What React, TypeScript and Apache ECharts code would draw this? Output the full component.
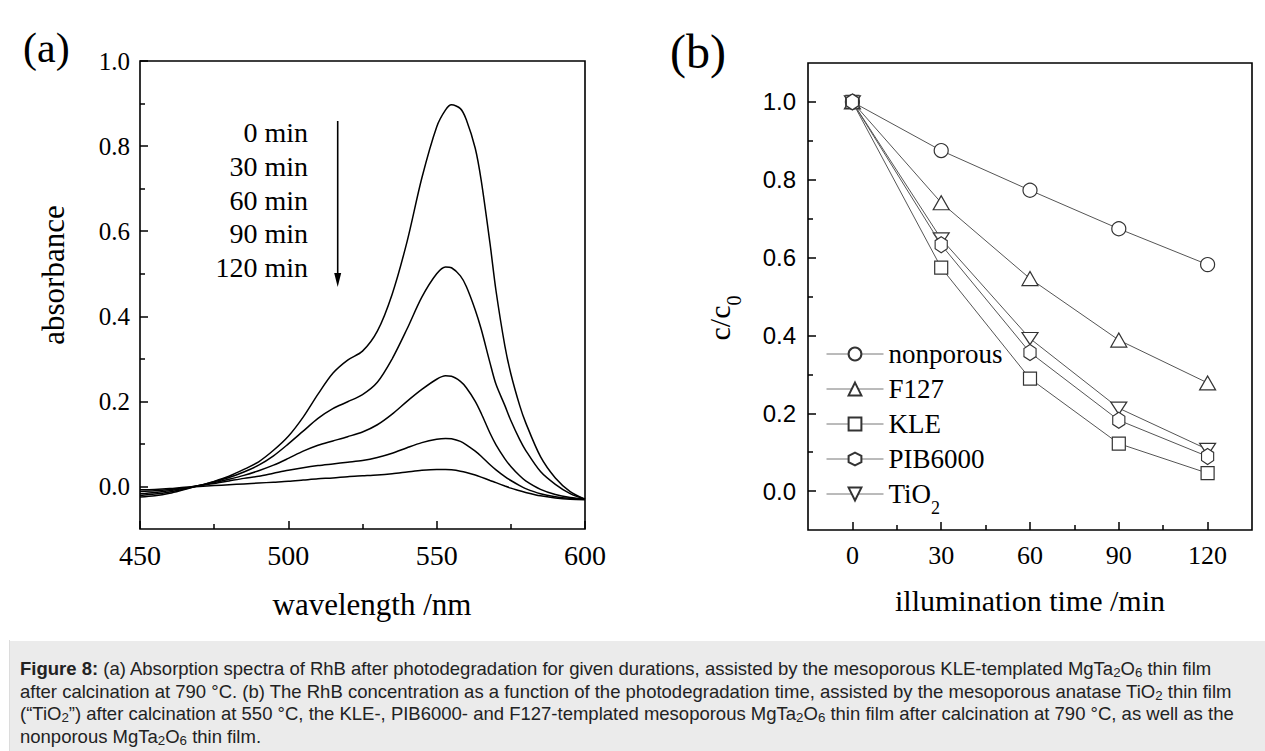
import React, { useEffect, useRef } from 'react';
import * as echarts from 'echarts';

// ---------- data: panel (a) absorption spectra ----------
const wavelengths = [450, 455, 460, 465, 470, 475, 480, 485, 490, 495, 500, 505, 510, 515, 520, 525, 530, 535, 540, 545, 550, 553, 555, 558, 560, 563, 565, 568, 570, 573, 575, 578, 580, 585, 590, 595, 600];
const abs0 = [-0.025, -0.022, -0.016, -0.007, 0.002, 0.012, 0.024, 0.04, 0.058, 0.085, 0.118, 0.163, 0.217, 0.266, 0.297, 0.318, 0.365, 0.452, 0.575, 0.725, 0.845, 0.885, 0.897, 0.888, 0.862, 0.795, 0.72, 0.57, 0.46, 0.33, 0.265, 0.19, 0.15, 0.07, 0.02, -0.012, -0.03];
const abs30 = [-0.021, -0.018, -0.013, -0.006, 0.002, 0.011, 0.021, 0.034, 0.05, 0.072, 0.1, 0.13, 0.16, 0.183, 0.199, 0.216, 0.245, 0.3, 0.37, 0.445, 0.5, 0.516, 0.514, 0.495, 0.47, 0.415, 0.37, 0.29, 0.24, 0.19, 0.155, 0.11, 0.085, 0.035, 0.005, -0.017, -0.03];
const abs60 = [-0.017, -0.014, -0.01, -0.004, 0.002, 0.009, 0.017, 0.026, 0.037, 0.05, 0.066, 0.083, 0.097, 0.107, 0.117, 0.128, 0.145, 0.17, 0.2, 0.228, 0.252, 0.26, 0.259, 0.247, 0.232, 0.2, 0.172, 0.125, 0.098, 0.065, 0.047, 0.025, 0.013, -0.007, -0.019, -0.026, -0.03];
const abs90 = [-0.012, -0.01, -0.007, -0.003, 0.002, 0.007, 0.013, 0.019, 0.024, 0.031, 0.038, 0.044, 0.049, 0.053, 0.057, 0.061, 0.068, 0.078, 0.091, 0.103, 0.111, 0.113, 0.112, 0.106, 0.098, 0.083, 0.071, 0.051, 0.039, 0.023, 0.014, 0.002, -0.005, -0.017, -0.024, -0.028, -0.03];
const abs120 = [-0.008, -0.007, -0.005, -0.002, 0, 0.002, 0.004, 0.006, 0.008, 0.01, 0.012, 0.015, 0.018, 0.02, 0.023, 0.025, 0.027, 0.03, 0.034, 0.038, 0.04, 0.04, 0.039, 0.036, 0.033, 0.027, 0.022, 0.014, 0.009, 0.001, -0.004, -0.01, -0.014, -0.022, -0.027, -0.03, -0.031];
const durationLabels = ['0 min', '30 min', '60 min', '90 min', '120 min'];

// ---------- data: panel (b) c/c0 vs illumination time ----------
const times = [0, 30, 60, 90, 120];
const nonporous = [1.0, 0.875, 0.773, 0.674, 0.582];
const f127 = [1.0, 0.741, 0.546, 0.388, 0.278];
const kle = [1.0, 0.574, 0.289, 0.122, 0.046];
const pib6000 = [1.0, 0.633, 0.356, 0.182, 0.089];
const tio2 = [1.0, 0.648, 0.392, 0.213, 0.107];
const seriesNames = ['nonporous', 'F127', 'KLE', 'PIB6000', 'TiO2'];

// ---------- tick values ----------
const aXMajor = [450, 500, 550, 600];
const aXMinor = [475, 525, 575];
const aYMajor = [0, 0.2, 0.4, 0.6, 0.8, 1.0];
const aYMinor = [0.1, 0.3, 0.5, 0.7, 0.9];
const bXMajor = [0, 30, 60, 90, 120];
const bXMinor = [15, 45, 75, 105];
const bYMajor = [0, 0.2, 0.4, 0.6, 0.8, 1.0];
const bYMinor = [0.1, 0.3, 0.5, 0.7, 0.9];

const SERIF = '"Liberation Serif", "Times New Roman", serif';
const SANS = '"Liberation Sans", Arial, sans-serif';

const HEX = 'path://M5,0L9.33,2.5L9.33,7.5L5,10L0.67,7.5L0.67,2.5Z';
const DOWNTRI = 'path://M0,0L10,0L5,8.66Z';

function App() {
  const ref = useRef<HTMLDivElement>(null);

  useEffect(() => {
    if (!ref.current) return;
    const chart = echarts.init(ref.current, undefined, { renderer: 'svg' });

    const gridA = { left: 140, top: 61, width: 445, height: 468 };
    const gridB = { left: 808, top: 63, width: 444, height: 467 };

    const majorTick = (vals: number[]) => ({
      show: true,
      inside: true,
      length: 8,
      customValues: vals,
      lineStyle: { color: '#000', width: 1.5 },
    });
    const minorTickAxis = (gridIndex: number, min: number, max: number, vals: number[]) => ({
      type: 'value',
      gridIndex,
      min,
      max,
      axisLine: { show: false, onZero: false },
      splitLine: { show: false },
      axisLabel: { show: false },
      axisTick: { show: true, inside: true, length: 5, customValues: vals, lineStyle: { color: '#000', width: 1.5 } },
    });

    const specSeries = [abs0, abs30, abs60, abs90, abs120].map((arr, k) => ({
      name: 'spec' + k,
      type: 'line',
      xAxisIndex: 0,
      yAxisIndex: 0,
      data: wavelengths.map((w, i) => [w, arr[i]]),
      showSymbol: false,
      symbol: 'none',
      smooth: 0.3,
      lineStyle: { color: '#000', width: 1.5 },
      silent: true,
    }));

    const symbolDefs: any[] = [
      { data: nonporous, symbol: 'circle', size: 14, z: 2 },
      { data: f127, symbol: 'triangle', size: [16, 14], z: 3 },
      { data: kle, symbol: 'rect', size: 13, z: 4 },
      { data: pib6000, symbol: HEX, size: [14, 16], z: 6 },
      { data: tio2, symbol: DOWNTRI, size: [16, 14], z: 5 },
    ];
    const kinSeries = symbolDefs.map((d, k) => ({
      name: seriesNames[k],
      type: 'line',
      xAxisIndex: 1,
      yAxisIndex: 1,
      z: d.z,
      data: times.map((t, i) => [t, d.data[i]]),
      symbol: d.symbol,
      symbolSize: d.size,
      symbolKeepAspect: true,
      showAllSymbol: true,
      lineStyle: { color: '#555', width: 1 },
      itemStyle: { color: '#fff', borderColor: '#333', borderWidth: 1.2 },
      emphasis: { disabled: true },
    }));

    const option: any = {
      animation: false,
      backgroundColor: '#fff',
      grid: [
        { ...gridA, show: true, borderColor: '#000', borderWidth: 1.6, backgroundColor: 'transparent' },
        { ...gridB, show: true, borderColor: '#000', borderWidth: 1.6, backgroundColor: 'transparent' },
        { ...gridA, show: false },
        { ...gridB, show: false },
      ],
      xAxis: [
        {
          type: 'value', gridIndex: 0, min: 450, max: 600,
          axisLine: { show: false, onZero: false }, splitLine: { show: false },
          axisTick: majorTick(aXMajor),
          axisLabel: { customValues: aXMajor, fontFamily: SERIF, fontSize: 28, color: '#000', margin: 12 },
        },
        {
          type: 'value', gridIndex: 1, min: -15, max: 135,
          axisLine: { show: false, onZero: false }, splitLine: { show: false },
          axisTick: majorTick(bXMajor),
          axisLabel: { customValues: bXMajor, fontFamily: SERIF, fontSize: 26, color: '#000', margin: 12 },
        },
        minorTickAxis(2, 450, 600, aXMinor),
        minorTickAxis(3, -15, 135, bXMinor),
      ],
      yAxis: [
        {
          type: 'value', gridIndex: 0, min: -0.1, max: 1.0,
          axisLine: { show: false, onZero: false }, splitLine: { show: false },
          axisTick: majorTick(aYMajor),
          axisLabel: { customValues: aYMajor, formatter: (v: number) => v.toFixed(1), fontFamily: SERIF, fontSize: 25, color: '#000', margin: 10 },
        },
        {
          type: 'value', gridIndex: 1, min: -0.1, max: 1.1,
          axisLine: { show: false, onZero: false }, splitLine: { show: false },
          axisTick: majorTick(bYMajor),
          axisLabel: { customValues: bYMajor, formatter: (v: number) => v.toFixed(1), fontFamily: SANS, fontSize: 24, color: '#000', margin: 12 },
        },
        minorTickAxis(2, -0.1, 1.0, aYMinor),
        minorTickAxis(3, -0.1, 1.1, bYMinor),
      ],
      legend: {
        data: seriesNames,
        orient: 'vertical',
        left: 821,
        top: 335,
        itemWidth: 57,
        itemHeight: 16,
        itemGap: 7,
        selectedMode: false,
        lineStyle: { color: '#777', width: 1 },
        formatter: (n: string) => (n === 'TiO2' ? '{m|TiO}{s|2}' : n),
        textStyle: {
          fontFamily: SERIF,
          fontSize: 27,
          color: '#000',
          lineHeight: 28,
          rich: {
            m: { fontFamily: SERIF, fontSize: 27, lineHeight: 28, color: '#000', verticalAlign: 'top' },
            s: { fontFamily: SERIF, fontSize: 18, lineHeight: 14, color: '#000', verticalAlign: 'top', padding: [19, 0, -5, 0] },
          },
        },
      },
      graphic: [
        { type: 'text', x: 23, y: 48, style: { text: '(a)', fontFamily: SERIF, fontSize: 42, fill: '#000', align: 'left', verticalAlign: 'middle', textAlign: 'left', textVerticalAlign: 'middle' } },
        { type: 'text', x: 670, y: 51, style: { text: '(b)', fontFamily: SERIF, fontSize: 48, fill: '#000', align: 'left', verticalAlign: 'middle', textAlign: 'left', textVerticalAlign: 'middle' } },
        { type: 'text', x: 53, y: 275, rotation: Math.PI / 2, style: { text: 'absorbance', fontFamily: SERIF, fontSize: 31, fill: '#000', align: 'center', verticalAlign: 'middle', textAlign: 'center', textVerticalAlign: 'middle' } },
        { type: 'text', x: 372, y: 604, style: { text: 'wavelength /nm', fontFamily: SERIF, fontSize: 31, fill: '#000', align: 'center', verticalAlign: 'middle', textAlign: 'center', textVerticalAlign: 'middle' } },
        { type: 'text', x: 1030, y: 600, style: { text: 'illumination time /min', fontFamily: SERIF, fontSize: 30, fill: '#000', align: 'center', verticalAlign: 'middle', textAlign: 'center', textVerticalAlign: 'middle' } },
        {
          type: 'text', x: 719, y: 318, rotation: Math.PI / 2,
          style: {
            text: '{m|c/c}{s|0}', align: 'center', verticalAlign: 'middle', textAlign: 'center', textVerticalAlign: 'middle',
            rich: {
              m: { fontFamily: SERIF, fontSize: 30, lineHeight: 30, fill: '#000', color: '#000', verticalAlign: 'top' },
              s: { fontFamily: SERIF, fontSize: 20, lineHeight: 16, fill: '#000', color: '#000', verticalAlign: 'top', padding: [20, 0, -6, 0] },
            },
          },
        },
        ...durationLabels.map((t, i) => ({
          type: 'text', x: 308, y: [132, 166, 200, 233, 267][i],
          style: { text: t, fontFamily: SERIF, fontSize: 28, fill: '#000', align: 'right', verticalAlign: 'middle', textAlign: 'right', textVerticalAlign: 'middle' },
        })),
        { type: 'line', shape: { x1: 337.7, y1: 121, x2: 337.7, y2: 276 }, style: { stroke: '#000', lineWidth: 1.6 } },
        { type: 'polygon', shape: { points: [[334.2, 273], [341.2, 273], [337.7, 287]] }, style: { fill: '#000' } },
      ],
      series: [...specSeries, ...kinSeries],
    };

    chart.setOption(option);
    return () => chart.dispose();
  }, []);

  const sub = { fontSize: '0.72em', verticalAlign: '-0.18em', lineHeight: 0 } as React.CSSProperties;
  const line = { whiteSpace: 'nowrap', height: 22.5, lineHeight: '22.5px' } as React.CSSProperties;

  return (
    <div style={{ position: 'fixed', left: 0, top: 0, width: 1265, height: 751, background: '#fff', overflow: 'hidden' }}>
      <div style={{ position: 'absolute', left: 9, top: 12, right: 0, height: 1, background: '#dcdcdc' }} />
      <div style={{ position: 'absolute', left: 9, top: 12, width: 1, bottom: 0, background: '#dcdcdc' }} />
      <div ref={ref} style={{ position: 'absolute', left: 0, top: 0, width: 1265, height: 640 }} />
      <div
        style={{
          position: 'absolute', left: 10, top: 641, right: 0, bottom: 0, background: '#ebebeb',
          fontFamily: SANS, fontSize: 18.5, color: '#222', paddingLeft: 10, paddingTop: 17, boxSizing: 'border-box',
        }}
      >
        <div style={line}>
          <b>Figure 8:</b> (a) Absorption spectra of RhB after photodegradation for given durations, assisted by the mesoporous KLE-templated MgTa<sub style={sub}>2</sub>O<sub style={sub}>6</sub> thin film
        </div>
        <div style={line}>
          after calcination at 790 °C. (b) The RhB concentration as a function of the photodegradation time, assisted by the mesoporous anatase TiO<sub style={sub}>2</sub> thin film
        </div>
        <div style={line}>
          (“TiO<sub style={sub}>2</sub>”) after calcination at 550 °C, the KLE-, PIB6000- and F127-templated mesoporous MgTa<sub style={sub}>2</sub>O<sub style={sub}>6</sub> thin film after calcination at 790 °C, as well as the
        </div>
        <div style={line}>
          nonporous MgTa<sub style={sub}>2</sub>O<sub style={sub}>6</sub> thin film.
        </div>
      </div>
    </div>
  );
}

export default App;
